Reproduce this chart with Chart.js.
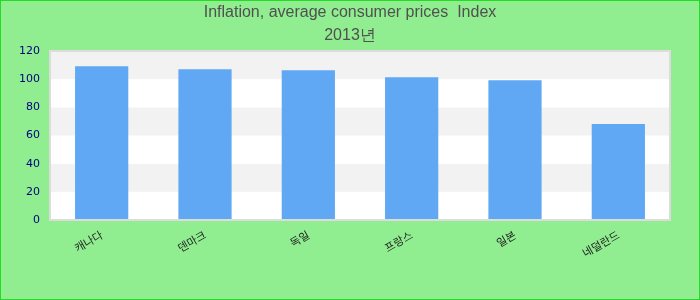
<!DOCTYPE html>
<html>
<head>
<meta charset="utf-8">
<script src="https://cdn.jsdelivr.net/npm/chart.js@4.4.0/dist/chart.umd.min.js"></script>
<style>
  html, body { margin: 0; padding: 0; }
  #wrap { width: 700px; height: 300px; box-sizing: border-box; border: 1px solid #22dd22; background: #90EE90; }
  canvas { display: block; }
</style>
</head>
<body>
<div id="wrap"><canvas id="c" width="698" height="298"></canvas></div>
<script>
const titleLines = ["Inflation, average consumer prices  Index", "2013년"];
const categories = ["캐나다", "덴마크", "독일", "프랑스", "일본", "네덜란드"];
const values = [109.2, 107.1, 106.4, 101.4, 99.3, 68.1];
const yTicks = [0, 20, 40, 60, 80, 100, 120];

const bandPlugin = {
  id: 'bands',
  beforeDatasetsDraw(chart) {
    const { ctx, chartArea: a, scales: { y } } = chart;
    ctx.save();
    ctx.fillStyle = '#ffffff';
    ctx.fillRect(a.left, a.top, a.right - a.left, a.bottom - a.top);
    for (let i = 0; i < yTicks.length - 1; i++) {
      const y0 = y.getPixelForValue(yTicks[i]);
      const y1 = y.getPixelForValue(yTicks[i + 1]);
      ctx.fillStyle = (i % 2 === 1) ? '#f2f2f2' : '#ffffff';
      ctx.fillRect(a.left, y1, a.right - a.left, y0 - y1);
    }
    ctx.restore();
  },
  afterDatasetsDraw(chart) {
    const { ctx, chartArea: a } = chart;
    ctx.save();
    ctx.strokeStyle = '#dcdcdc';
    ctx.lineWidth = 2;
    ctx.strokeRect(a.left, a.top, a.right - a.left, a.bottom - a.top);
    ctx.restore();
  },
  afterDraw(chart) {
    const { ctx } = chart;
    ctx.save();
    ctx.fillStyle = '#505050';
    ctx.font = "16px 'Liberation Sans', Arial, sans-serif";
    ctx.textAlign = 'center';
    ctx.textBaseline = 'middle';
    ctx.fillText(titleLines[0], 349, 12);
    ctx.fillText(titleLines[1], 349, 35);
    ctx.restore();
  }
};

new Chart(document.getElementById('c'), {
  type: 'bar',
  data: {
    labels: categories,
    datasets: [{
      data: values,
      backgroundColor: '#60a8f4',
      borderWidth: 0,
      categoryPercentage: 1.0,
      barPercentage: 0.515
    }]
  },
  options: {
    responsive: false,
    animation: false,
    layout: { padding: { left: 0, right: 29, top: 50, bottom: 0 } },
    plugins: {
      legend: { display: false },
      tooltip: { enabled: false },
      title: { display: false }
    },
    scales: {
      x: {
        grid: { display: false, drawTicks: false },
        border: { display: false },
        ticks: {
          color: '#222222',
          font: { family: "'Noto Sans CJK KR', sans-serif", size: 11 },
          minRotation: 30,
          maxRotation: 30,
          padding: 8
        },
        afterFit(s) { s.height = 79; }
      },
      y: {
        min: 0,
        max: 120,
        grid: { display: false, drawTicks: false },
        border: { display: false },
        afterBuildTicks(s) { s.ticks = yTicks.map(v => ({ value: v })); },
        ticks: {
          color: '#000080',
          font: { family: "'DejaVu Sans', sans-serif", size: 11 },
          padding: 10
        },
        afterFit(s) { s.width = 49; }
      }
    }
  },
  plugins: [bandPlugin]
});
</script>
</body>
</html>
